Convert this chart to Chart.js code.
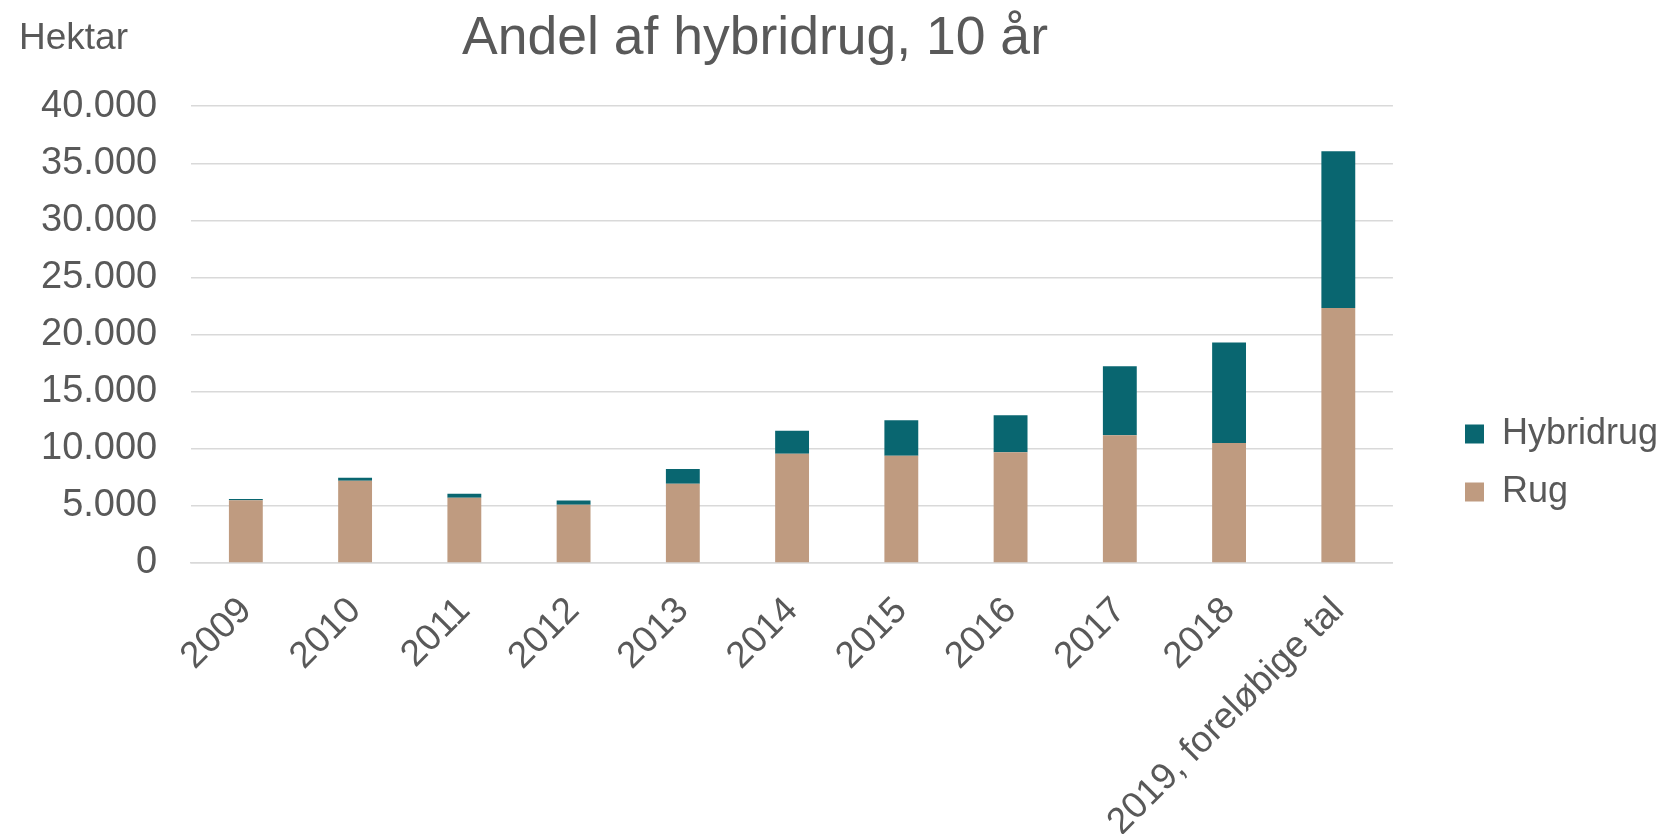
<!DOCTYPE html>
<html>
<head>
<meta charset="utf-8">
<script src="https://cdn.jsdelivr.net/npm/chart.js@4/dist/chart.umd.min.js"></script>
<style>
  html, body { margin: 0; padding: 0; background: #fff; }
  #wrap { width: 1661px; height: 834px; }
</style>
</head>
<body>
<div id="wrap"><canvas id="rugChart"></canvas></div>
<script>
// data
const years = ['2009', '2010', '2011', '2012', '2013', '2014', '2015', '2016', '2017', '2018', '2019, foreløbige tal'];
const rug = [5500, 7200, 5720, 5100, 6950, 9570, 9400, 9690, 11180, 10500, 22330];
const hybridrug = [100, 270, 350, 380, 1280, 2020, 3090, 3240, 6040, 8800, 13720];
const yTicks = [0, 5000, 10000, 15000, 20000, 25000, 30000, 35000, 40000];

const textColor = '#595959';
const fontFamily = '"Liberation Sans", Arial, sans-serif';

// danish thousand separator
function fmt(v) {
  return String(v).replace(/\B(?=(\d{3})+(?!\d))/g, '.');
}

// "Hektar" label, title centre and legend placement
const extras = {
  id: 'extras',
  afterLayout(chart) {
    const lg = chart.legend;
    lg.left = 1443;
    lg.right = 1661;
    lg.top = 394;
    const t = chart.titleBlock;
    t.left = 0;
    t.right = 1510;
  },
  afterDraw(chart) {
    const ctx = chart.ctx;
    ctx.save();
    ctx.fillStyle = textColor;
    ctx.font = '37px ' + fontFamily;
    ctx.textBaseline = 'middle';
    ctx.textAlign = 'left';
    ctx.fillText('Hektar', 19, 39);
    ctx.restore();
  }
};

const config = {
  type: 'bar',
  data: {
    labels: years,
    datasets: [{
      label: 'Rug',
      data: rug,
      backgroundColor: '#BF9B80',
      barPercentage: 0.31,
      categoryPercentage: 1
    }, {
      label: 'Hybridrug',
      data: hybridrug,
      backgroundColor: '#096670',
      barPercentage: 0.31,
      categoryPercentage: 1
    }]
  },
  options: {
    responsive: true,
    maintainAspectRatio: false,
    animation: false,
    layout: {
      padding: { left: 7, right: 43, top: 0, bottom: 0 }
    },
    plugins: {
      title: {
        display: true,
        text: 'Andel af hybridrug, 10 år',
        color: textColor,
        font: { family: fontFamily, size: 53.5, weight: 'normal' },
        padding: { top: 7, bottom: 35 }
      },
      legend: {
        position: 'right',
        align: 'start',
        reverse: true,
        labels: {
          color: textColor,
          font: { family: fontFamily, size: 36 },
          boxWidth: 19,
          boxHeight: 19,
          padding: 22
        }
      },
      tooltip: { enabled: false }
    },
    scales: {
      x: {
        stacked: true,
        afterFit(scale) {
          scale.height = 271;
        },
        grid: { display: false },
        border: { color: '#d9d9d9', width: 1.5 },
        ticks: {
          color: textColor,
          font: { family: fontFamily, size: 37 },
          minRotation: 45,
          maxRotation: 45,
          autoSkip: false,
          padding: 18
        }
      },
      y: {
        stacked: true,
        min: 0,
        max: 40000,
        afterBuildTicks(scale) {
          scale.ticks = yTicks.map(v => ({ value: v }));
        },
        grid: { color: '#d9d9d9', lineWidth: 1.5, drawTicks: false },
        border: { display: false },
        ticks: {
          color: textColor,
          font: { family: fontFamily, size: 38 },
          padding: 34,
          callback: v => fmt(v)
        }
      }
    }
  },
  plugins: [extras]
};

const rugChart = new Chart(document.getElementById('rugChart'), config);
</script>
</body>
</html>
